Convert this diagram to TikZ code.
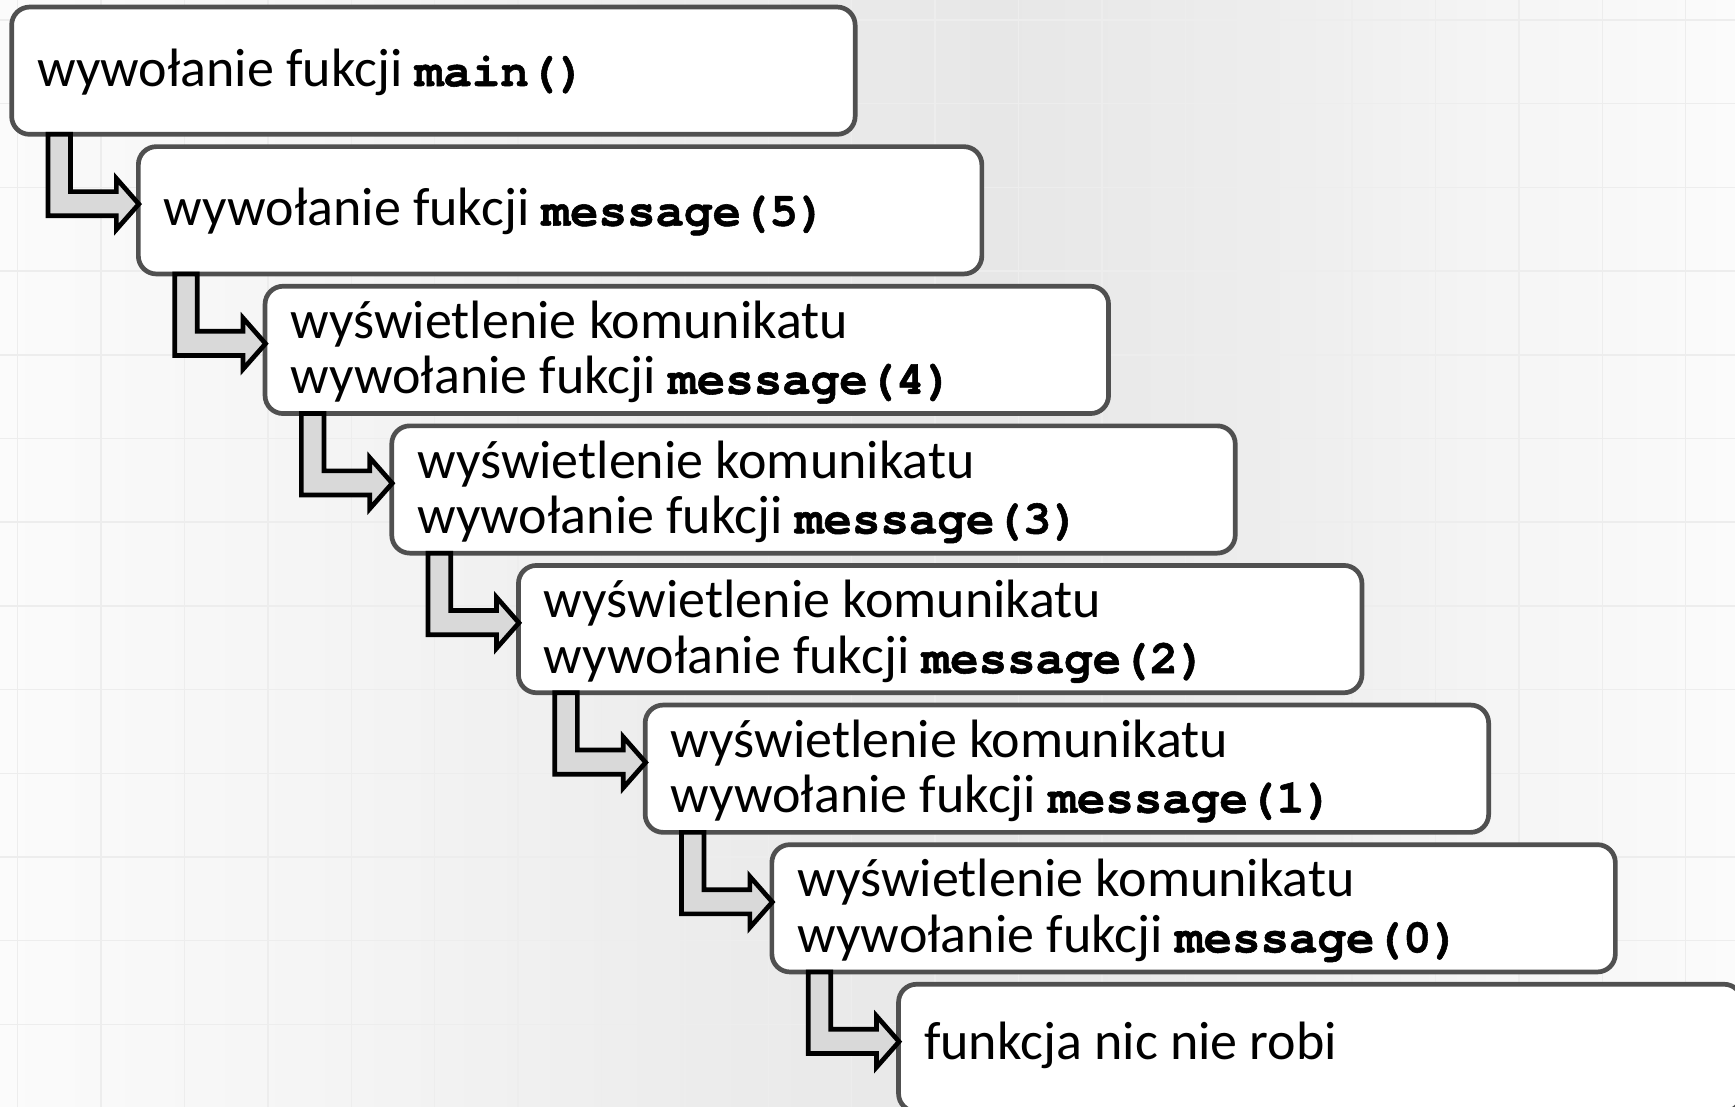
\documentclass[tikz,border=0pt]{standalone}
\usepackage{fontspec}
\setmainfont{Carlito}
\newfontfamily\codefont{texgyrecursor}[Extension=.otf, UprightFont=*-regular, BoldFont=*-bold, BoldFeatures={FakeBold=1.2}]
\usetikzlibrary{calc}
\definecolor{boxgray}{HTML}{505050}
\definecolor{arrowfill}{HTML}{D9D9D9}
\definecolor{gridc}{HTML}{EDEDED}
\definecolor{bgA}{HTML}{FBFBFB}
\definecolor{bgB}{HTML}{F3F3F3}
\definecolor{bgC}{HTML}{ECECEC}
\definecolor{bgD}{HTML}{E7E7E7}
\definecolor{bgE}{HTML}{EEEEEE}
\definecolor{bgF}{HTML}{F5F5F5}
\definecolor{bgG}{HTML}{FBFBFB}
\pgfdeclarehorizontalshading{bgshade}{100bp}{color(0bp)=(bgA); color(25bp)=(bgA); color(36.5bp)=(bgB); color(45.2bp)=(bgC); color(53.8bp)=(bgD); color(62.5bp)=(bgE); color(68.2bp)=(bgF); color(75bp)=(bgG); color(100bp)=(bgG)}
\newcommand\mycode[1]{{\codefont\bfseries\fontsize{47.5}{55.3}\selectfont #1}}
\begin{document}
\begin{tikzpicture}[x=1pt,y=-1pt,
  box/.style={draw=boxgray, line width=4.7pt, fill=white, rounded corners=18pt,
    minimum width=843.5pt, minimum height=127.3pt, inner sep=0pt, outer sep=0pt, anchor=north west},
  lbl/.style={anchor=base west, inner sep=0pt, outer sep=0pt, font=\fontsize{54}{55.3}\selectfont},
  callarrow/.style={draw=black, fill=arrowfill, line width=4.7pt, miter limit=10},
  gridline/.style={draw=gridc, line width=1.5pt}]
\useasboundingbox (0,0) rectangle (1735,1107);
\begin{scope}
  \clip (0,0) rectangle (1735,1107);
  \shade[shading=bgshade] (0,0) rectangle (1735,1107);
  \foreach \k in {0,...,20} \draw[gridline] (17.7+83.4*\k,0) -- (17.7+83.4*\k,1107);
  \foreach \k in {0,...,13} \draw[gridline] (0,20+83.7*\k) -- (1735,20+83.7*\k);
\end{scope}
% boxes
\foreach \i in {0,...,7}
  \node[box] (b\i) at (11.65+126.7*\i, 7.05+139.6*\i) {};
% arrows
\foreach \i in {1,...,7}{
  \pgfmathtruncatemacro\j{\i-1}
  \coordinate (sl\i) at ($(b\i.north west)+(-90.4,0)$);
  \coordinate (sr\i) at ($(b\i.north west)+(-67.8,0)$);
  \draw[callarrow] (sl\i |- b\j.south)
    -- ($(b\i.north west)+(-90.4,69.2)$)
    -- ($(b\i.north west)+(-22,69.2)$)
    -- ($(b\i.north west)+(-22,82.9)$)
    -- ($(b\i.north west)+(0.5,57.4)$)
    -- ($(b\i.north west)+(-22,31.8)$)
    -- ($(b\i.north west)+(-22,45)$)
    -- ($(b\i.north west)+(-67.8,45)$)
    -- (sr\i |- b\j.south) -- cycle;
}
% texts
\node[lbl] (t0) at ($(b0.north west)+(25.5,79)$) {wywołanie fukcji \mycode{main()}};
\node[lbl] (t1) at ($(b1.north west)+(25.5,79)$) {wywołanie fukcji \mycode{message(5)}};
\node[lbl] (t2a) at ($(b2.north west)+(25.5,52.3)$) {wyświetlenie komunikatu};
\node[lbl] (t2b) at ($(b2.north west)+(25.5,107.6)$) {wywołanie fukcji \mycode{message(4)}};
\node[lbl] (t3a) at ($(b3.north west)+(25.5,52.3)$) {wyświetlenie komunikatu};
\node[lbl] (t3b) at ($(b3.north west)+(25.5,107.6)$) {wywołanie fukcji \mycode{message(3)}};
\node[lbl] (t4a) at ($(b4.north west)+(25.5,52.3)$) {wyświetlenie komunikatu};
\node[lbl] (t4b) at ($(b4.north west)+(25.5,107.6)$) {wywołanie fukcji \mycode{message(2)}};
\node[lbl] (t5a) at ($(b5.north west)+(25.5,52.3)$) {wyświetlenie komunikatu};
\node[lbl] (t5b) at ($(b5.north west)+(25.5,107.6)$) {wywołanie fukcji \mycode{message(1)}};
\node[lbl] (t6a) at ($(b6.north west)+(25.5,52.3)$) {wyświetlenie komunikatu};
\node[lbl] (t6b) at ($(b6.north west)+(25.5,107.6)$) {wywołanie fukcji \mycode{message(0)}};
\node[lbl] (t7) at ($(b7.north west)+(25.5,75)$) {funkcja nic nie robi};
\end{tikzpicture}
\end{document}
